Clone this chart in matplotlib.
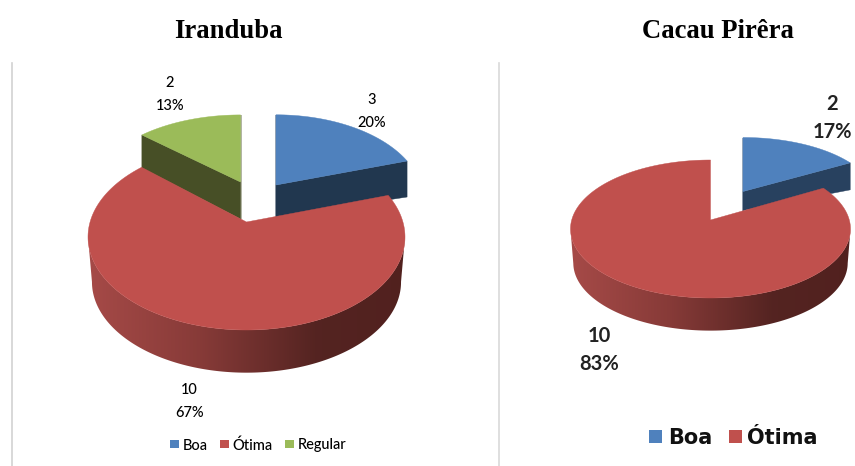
import numpy as np
import matplotlib
matplotlib.use("Agg")
import matplotlib.pyplot as plt
from matplotlib.patches import Rectangle, Polygon

# dados
cat_iranduba = ["Boa", "Ótima", "Regular"]
val_iranduba = [3, 10, 2]
pct_iranduba = ["20%", "67%", "13%"]

cat_cacau = ["Boa", "Ótima"]
val_cacau = [2, 10]
pct_cacau = ["17%", "83%"]

COR_TOPO = {"Boa": "#4F81BD", "Ótima": "#C0504D", "Regular": "#9BBB59"}
COR_LADO = {"Boa": "#21374F", "Regular": "#474F26"}
GRAD_X = [0.0, 0.35, 0.72, 1.0]
GRAD_COR = [(0.65, 0.29, 0.28), (0.53, 0.23, 0.22), (0.33, 0.14, 0.13), (0.32, 0.13, 0.12)]


def projetar(t, cx, cy, rx, ry, apex_y):
    # disco visto em perspectiva, t em graus no sentido horario a partir do topo
    t = np.radians(t)
    u, v = np.sin(t), np.cos(t)
    c = cy - apex_y
    k = c / ry
    d = 1 + k * v
    return cx + rx * np.sqrt(1 - k**2) * u / d, cy - (ry * v + c) / d


def desenhar_pizza(ax, cats, vals, geo, fora):
    cx, cy, rx, ry, apex_y, esc, queda = geo
    bordas = np.concatenate([[0], np.cumsum(vals) / np.sum(vals) * 360])
    apex_x = cx

    # fatias destacadas primeiro, ficam atras
    for i, cat in enumerate(cats):
        if cat not in fora:
            continue
        ox, oy, sx, sy, d_apex, d_borda, cor_lado = fora[cat]
        tt = np.linspace(bordas[i], bordas[i + 1], 60)
        x, y = projetar(tt, cx, cy, rx, ry, apex_y)
        x = ox + sx * (x - apex_x)
        y = oy + sy * (y - apex_y)
        for j in (0, -1):
            ax.fill([ox, x[j], x[j], ox], [oy, y[j], y[j] + d_borda, oy + d_apex],
                    color=cor_lado, lw=0.3, zorder=1)
        ax.fill(np.r_[ox, x], np.r_[oy, y], color=COR_TOPO[cat], lw=0.3, zorder=1.5)

    # fatia principal
    f = np.linspace(0, 1, 256)
    grad = np.stack([np.interp(f, GRAD_X, [c[n] for c in GRAD_COR]) for n in range(3)], axis=-1)[None, :, :]
    for i, cat in enumerate(cats):
        if cat in fora:
            continue
        tt = np.linspace(bordas[i], bordas[i + 1], 240)
        x, y = projetar(tt, cx, cy, rx, ry, apex_y)
        xb = cx + esc * (x - cx)
        yb = cy + queda + esc * (y - cy)
        # parede so na parte da frente
        i_d, i_e = np.argmax(x), np.argmin(x)
        px = np.r_[x[i_d:i_e + 1], xb[i_d:i_e + 1][::-1]]
        py = np.r_[y[i_d:i_e + 1], yb[i_d:i_e + 1][::-1]]
        lado = Polygon(np.c_[px, py], closed=True, transform=ax.transData)
        im = ax.imshow(grad, extent=[cx - rx, cx + rx, yb.max() + 1, cy - ry], aspect="auto", zorder=2)
        im.set_clip_path(lado)
        ax.fill(np.r_[apex_x, x], np.r_[apex_y, y], color=COR_TOPO[cat], lw=0.3, zorder=2.5)


def legenda(ax, cats, pos_q, pos_t, y, lado, **kw):
    for cat, xq, xt in zip(cats, pos_q, pos_t):
        ax.add_patch(Rectangle((xq, y - lado / 2), lado, lado, color=COR_TOPO[cat], lw=0))
        ax.text(xt, y, cat, ha="left", va="center_baseline", **kw)


fig = plt.figure(figsize=(8.55, 4.66), dpi=100)
ax = fig.add_axes([0, 0, 1, 1])

# linhas cinza a esquerda de cada grafico
ax.plot([11.5, 11.5], [63, 466], color="#D2D2D2", lw=1.2)
ax.plot([498.5, 498.5], [63, 466], color="#D9D9D9", lw=1.2)

titulo = dict(family="Liberation Serif", weight="bold", size=19.2, ha="center", va="center")
ax.text(228, 31, "Iranduba", **titulo)
ax.text(717.5, 31, "Cacau Pirêra", **titulo)

desenhar_pizza(ax, cat_iranduba, val_iranduba,
               (246.5, 237, 158.5, 93, 222, 0.975, 45),
               {"Boa": (276, 185, 0.925, 0.9, 32, 36, COR_LADO["Boa"]),
                "Regular": (240.5, 182, 0.94, 0.86, 37, 33, COR_LADO["Regular"])})

desenhar_pizza(ax, cat_cacau, val_cacau,
               (710.5, 229, 140, 69, 220, 0.98, 34),
               {"Boa": (743, 191.5, 0.95, 0.9, 19, 27, "#28415F")})

# rotulos
rot_esq = dict(family="Lato", size=10.5, weight="medium", ha="center", va="center", color="#000000")
rot_dir = dict(family="Lato", size=14.5, weight="bold", ha="center", va="center", color="#222222")
for val, pct, x, y in zip(val_iranduba, pct_iranduba, [371.5, 189.5, 170], [100.5, 390.5, 83]):
    ax.text(x, y, str(val), **rot_esq)
    ax.text(x, y + 22.5, pct, **rot_esq)
for val, pct, x, y in zip(val_cacau, pct_cacau, [832.5, 599.5], [104, 335.5]):
    ax.text(x, y, str(val), **rot_dir)
    ax.text(x, y + 28.5, pct, **rot_dir)

legenda(ax, cat_iranduba, [170, 220, 285], [183, 232, 298], 444, 8.5,
        family="Lato", size=10.5, weight="medium", color="#000000")
legenda(ax, cat_cacau, [649, 729], [668, 747], 436.5, 13,
        family="DejaVu Sans", weight="bold", size=15, color="#111111")

ax.set_xlim(0, 855)
ax.set_ylim(466, 0)
ax.axis("off")

plt.savefig("out.png", dpi=100)
